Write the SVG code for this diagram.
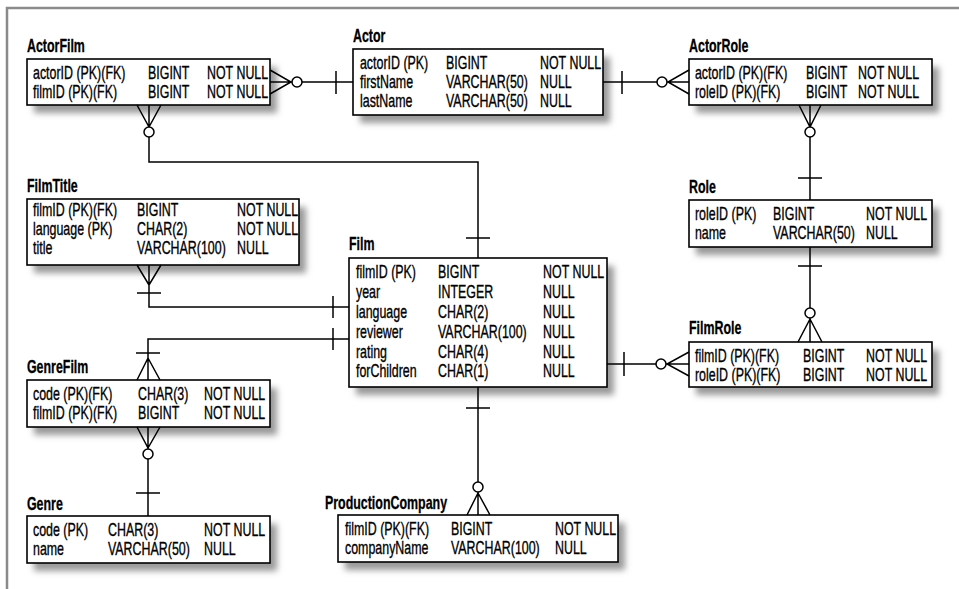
<svg xmlns="http://www.w3.org/2000/svg" width="959" height="589" viewBox="0 0 959 589">
<defs>
<filter id="sh" x="-10%" y="-20%" width="130%" height="160%"><feGaussianBlur stdDeviation="3"/></filter>
<style>
.frame{fill:none;stroke:#8a8a8a;stroke-width:2.5}
.shadow{fill:#9a9a9a;filter:url(#sh)}
.box{fill:#fff;stroke:#000;stroke-width:1.6}
.t{font-family:"Liberation Sans",Arial,sans-serif;font-size:18px;fill:#000;stroke:#000;stroke-width:0.35}
.ttl{font-family:"Liberation Sans",Arial,sans-serif;font-size:18px;font-weight:bold;fill:#000;stroke:#000;stroke-width:0.3}
.c{fill:none;stroke:#000;stroke-width:1.5}
.o{fill:#fff;stroke:#000;stroke-width:1.5}
</style>
</defs>
<rect width="959" height="589" fill="#fff"/>
<path class="frame" d="M7 589 V8 H959"/>

<g id="ActorFilm">
<rect class="shadow" x="34" y="67" width="243" height="46"/>
<rect class="box" x="27" y="59" width="243" height="46"/>
<g transform="scale(0.69 1)">
<text class="ttl" x="39.1" y="52">ActorFilm</text>
<text class="t" x="47.8" y="79">actorID (PK)(FK)</text><text class="t" x="214.5" y="79">BIGINT</text><text class="t" x="300" y="79">NOT NULL</text>
<text class="t" x="47.8" y="98">filmID (PK)(FK)</text><text class="t" x="214.5" y="98">BIGINT</text><text class="t" x="300" y="98">NOT NULL</text>
</g>
</g>

<g id="Actor">
<rect class="shadow" x="360" y="57" width="250" height="66"/>
<rect class="box" x="353" y="49" width="250" height="66"/>
<g transform="scale(0.69 1)">
<text class="ttl" x="511.6" y="42">Actor</text>
<text class="t" x="521.7" y="69">actorID (PK)</text><text class="t" x="646.4" y="69">BIGINT</text><text class="t" x="782.6" y="69">NOT NULL</text>
<text class="t" x="521.7" y="88">firstName</text><text class="t" x="646.4" y="88">VARCHAR(50)</text><text class="t" x="782.6" y="88">NULL</text>
<text class="t" x="521.7" y="107">lastName</text><text class="t" x="646.4" y="107">VARCHAR(50)</text><text class="t" x="782.6" y="107">NULL</text>
</g>
</g>

<g id="ActorRole">
<rect class="shadow" x="696" y="67" width="243" height="46"/>
<rect class="box" x="689" y="59" width="243" height="46"/>
<g transform="scale(0.69 1)">
<text class="ttl" x="998.6" y="52">ActorRole</text>
<text class="t" x="1007.2" y="79">actorID (PK)(FK)</text><text class="t" x="1168.1" y="79">BIGINT</text><text class="t" x="1243.5" y="79">NOT NULL</text>
<text class="t" x="1007.2" y="98">roleID (PK)(FK)</text><text class="t" x="1168.1" y="98">BIGINT</text><text class="t" x="1243.5" y="98">NOT NULL</text>
</g>
</g>

<g id="Role">
<rect class="shadow" x="696" y="208" width="243" height="47"/>
<rect class="box" x="689" y="200" width="243" height="47"/>
<g transform="scale(0.69 1)">
<text class="ttl" x="998.6" y="193">Role</text>
<text class="t" x="1007.2" y="220">roleID (PK)</text><text class="t" x="1120.3" y="220">BIGINT</text><text class="t" x="1255.1" y="220">NOT NULL</text>
<text class="t" x="1007.2" y="239">name</text><text class="t" x="1120.3" y="239">VARCHAR(50)</text><text class="t" x="1255.1" y="239">NULL</text>
</g>
</g>

<g id="FilmTitle">
<rect class="shadow" x="34" y="207" width="272" height="66"/>
<rect class="box" x="27" y="199" width="272" height="66"/>
<g transform="scale(0.69 1)">
<text class="ttl" x="39.1" y="192">FilmTitle</text>
<text class="t" x="47.8" y="216">filmID (PK)(FK)</text><text class="t" x="198.6" y="216">BIGINT</text><text class="t" x="343.5" y="216">NOT NULL</text>
<text class="t" x="47.8" y="235">language (PK)</text><text class="t" x="198.6" y="235">CHAR(2)</text><text class="t" x="343.5" y="235">NOT NULL</text>
<text class="t" x="47.8" y="254">title</text><text class="t" x="198.6" y="254">VARCHAR(100)</text><text class="t" x="343.5" y="254">NULL</text>
</g>
</g>

<g id="Film">
<rect class="shadow" x="356" y="266" width="258" height="129"/>
<rect class="box" x="349" y="258" width="258" height="129"/>
<g transform="scale(0.69 1)">
<text class="ttl" x="505.8" y="250">Film</text>
<text class="t" x="515.9" y="278">filmID (PK)</text><text class="t" x="634.8" y="278">BIGINT</text><text class="t" x="787" y="278">NOT NULL</text>
<text class="t" x="515.9" y="298">year</text><text class="t" x="634.8" y="298">INTEGER</text><text class="t" x="787" y="298">NULL</text>
<text class="t" x="515.9" y="318">language</text><text class="t" x="634.8" y="318">CHAR(2)</text><text class="t" x="787" y="318">NULL</text>
<text class="t" x="515.9" y="338">reviewer</text><text class="t" x="634.8" y="338">VARCHAR(100)</text><text class="t" x="787" y="338">NULL</text>
<text class="t" x="515.9" y="358">rating</text><text class="t" x="634.8" y="358">CHAR(4)</text><text class="t" x="787" y="358">NULL</text>
<text class="t" x="515.9" y="377">forChildren</text><text class="t" x="634.8" y="377">CHAR(1)</text><text class="t" x="787" y="377">NULL</text>
</g>
</g>

<g id="FilmRole">
<rect class="shadow" x="696" y="350" width="243" height="45"/>
<rect class="box" x="689" y="342" width="243" height="45"/>
<g transform="scale(0.69 1)">
<text class="ttl" x="998.6" y="334">FilmRole</text>
<text class="t" x="1007.2" y="362">filmID (PK)(FK)</text><text class="t" x="1163.8" y="362">BIGINT</text><text class="t" x="1255.1" y="362">NOT NULL</text>
<text class="t" x="1007.2" y="381">roleID (PK)(FK)</text><text class="t" x="1163.8" y="381">BIGINT</text><text class="t" x="1255.1" y="381">NOT NULL</text>
</g>
</g>

<g id="GenreFilm">
<rect class="shadow" x="34" y="388" width="243" height="47"/>
<rect class="box" x="27" y="380" width="243" height="47"/>
<g transform="scale(0.69 1)">
<text class="ttl" x="39.1" y="373">GenreFilm</text>
<text class="t" x="47.8" y="400">code (PK)(FK)</text><text class="t" x="200" y="400">CHAR(3)</text><text class="t" x="295.7" y="400">NOT NULL</text>
<text class="t" x="47.8" y="419">filmID (PK)(FK)</text><text class="t" x="200" y="419">BIGINT</text><text class="t" x="295.7" y="419">NOT NULL</text>
</g>
</g>

<g id="Genre">
<rect class="shadow" x="34" y="524" width="243" height="47"/>
<rect class="box" x="27" y="516" width="243" height="47"/>
<g transform="scale(0.69 1)">
<text class="ttl" x="39.1" y="510">Genre</text>
<text class="t" x="47.8" y="536">code (PK)</text><text class="t" x="156.5" y="536">CHAR(3)</text><text class="t" x="295.7" y="536">NOT NULL</text>
<text class="t" x="47.8" y="555">name</text><text class="t" x="156.5" y="555">VARCHAR(50)</text><text class="t" x="295.7" y="555">NULL</text>
</g>
</g>

<g id="ProductionCompany">
<rect class="shadow" x="345" y="523" width="280" height="47"/>
<rect class="box" x="338" y="515" width="280" height="47"/>
<g transform="scale(0.69 1)">
<text class="ttl" x="471" y="509">ProductionCompany</text>
<text class="t" x="500" y="535">filmID (PK)(FK)</text><text class="t" x="653.6" y="535">BIGINT</text><text class="t" x="804.3" y="535">NOT NULL</text>
<text class="t" x="500" y="554">companyName</text><text class="t" x="653.6" y="554">VARCHAR(100)</text><text class="t" x="804.3" y="554">NULL</text>
</g>
</g>

<g id="connectors">
<!-- ActorFilm - Actor -->
<path class="c" d="M270 82 H353 M270 70 L291 82 L270 94 M336 71 V94"/>
<circle class="o" cx="297" cy="82" r="5"/>
<!-- Actor - ActorRole -->
<path class="c" d="M603 82 H689 M689 70 L668 82 L689 94 M622 71 V94"/>
<circle class="o" cx="662" cy="82" r="5"/>
<!-- ActorRole - Role -->
<path class="c" d="M810 105 V200 M799 105 L810 127 L821 105 M798 178 H822"/>
<circle class="o" cx="810" cy="132" r="5"/>
<!-- Role - FilmRole -->
<path class="c" d="M810 247 V342 M798 266 H822 M798 342 L810 319 L822 342"/>
<circle class="o" cx="810" cy="313" r="5"/>
<!-- Film - FilmRole -->
<path class="c" d="M607 364 H689 M624 352 V376 M689 352 L667 364 L689 376"/>
<circle class="o" cx="661" cy="364" r="5"/>
<!-- ActorFilm - Film -->
<path class="c" d="M149 105 V162 H478 V258 M137 105 L149 127 L161 105 M466 238 H490"/>
<circle class="o" cx="149" cy="132" r="5"/>
<!-- FilmTitle - Film -->
<path class="c" d="M149 265 V307 H349 M137 265 L149 285 L161 265 M137 293 H161 M333 296 V318"/>
<!-- GenreFilm - Film -->
<path class="c" d="M148 380 V339 H349 M136 353 H160 M137 380 L148 358 L160 380 M333 328 V350"/>
<!-- GenreFilm - Genre -->
<path class="c" d="M148 427 V516 M137 427 L148 448 L160 427 M136 493 H160"/>
<circle class="o" cx="148" cy="454" r="5"/>
<!-- Film - ProductionCompany -->
<path class="c" d="M478 387 V515 M466 408 H490 M467 515 L478 493 L490 515"/>
<circle class="o" cx="478" cy="487" r="5"/>
</g>
</svg>
